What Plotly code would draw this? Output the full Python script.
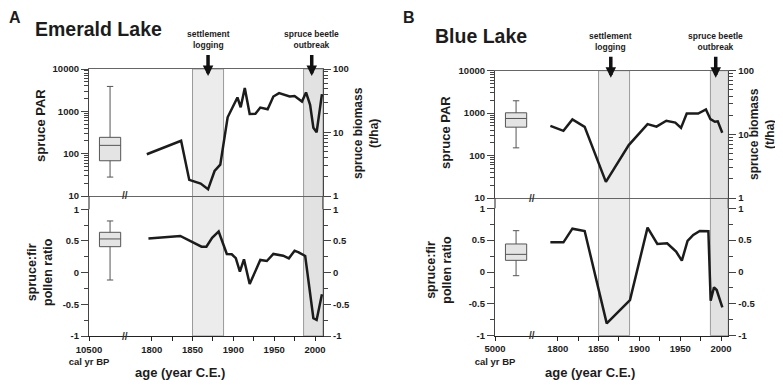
import plotly.graph_objects as go

# ---------------- data ----------------
# Emerald Lake
emerald_par_years = [1794, 1836, 1846, 1860, 1869, 1877, 1884, 1893, 1905, 1909, 1914, 1920, 1927,
                     1933, 1942, 1949, 1956, 1969, 1975, 1984, 1989, 1994, 1998, 2002, 2008.5]
emerald_par = [97, 202, 24, 19.6, 14.4, 39, 55, 724, 2120, 1250, 3540, 870, 880,
               1230, 1120, 2240, 2690, 2240, 2300, 1710, 2790, 1420, 410, 320, 2550]
emerald_ratio_years = [1796, 1835, 1861, 1867, 1874, 1882, 1892, 1898, 1903, 1908, 1913, 1920,
                       1933, 1941, 1949, 1961, 1968, 1975, 1980, 1988, 1998, 2002, 2008.5]
emerald_ratio = [0.54, 0.58, 0.41, 0.41, 0.55, 0.65, 0.295, 0.29, 0.23, 0.016, 0.21, -0.18,
                 0.2, 0.184, 0.295, 0.268, 0.226, 0.347, 0.32, 0.263, -0.72, -0.747, -0.342]
# Holocene distribution boxes (lower whisker, q1, median, q3, upper whisker)
emerald_par_box = [28, 68, 157, 243, 3875]
emerald_ratio_box = [-0.116, 0.41, 0.532, 0.637, 0.816]

# Blue Lake
blue_par_years = [1791, 1807, 1818, 1833, 1859, 1887, 1910, 1921, 1933, 1944, 1951, 1958,
                  1972, 1981.5, 1987, 1992.5, 1996, 2001.5]
blue_par = [502, 383, 708, 475, 24, 177, 550, 480, 660, 600, 450, 980,
            980, 1220, 720, 625, 640, 345]
blue_ratio_years = [1791, 1807, 1818, 1833, 1860, 1888.5, 1910, 1922, 1934, 1945, 1952, 1959,
                    1966, 1974, 1984.5, 1987.3, 1991.4, 1994.7, 2001.6]
blue_ratio = [0.466, 0.466, 0.68, 0.644, -0.806, -0.44, 0.696, 0.44, 0.45, 0.319, 0.178, 0.487,
              0.581, 0.644, 0.639, -0.45, -0.24, -0.283, -0.555]
blue_par_box = [152, 467, 748, 1019, 1955]
blue_ratio_box = [-0.058, 0.183, 0.277, 0.44, 0.649]

# disturbance periods (years C.E.) and arrow years
period_settlement = [1850, 1888]
period_beetle = [1986, 2010]
event_labels = ["settlement<br>logging", "spruce beetle<br>outbreak"]
emerald_event_years = [1869, 1996]
blue_event_years = [1865, 1993.5]

# tick labels
year_ticks = [1800, 1850, 1900, 1950, 2000]
year_minor = [1825, 1875, 1925, 1975]
par_ticks = [10, 100, 1000, 10000]
biomass_ticks = [1, 10, 100]
ratio_ticks = [-1, -0.5, 0, 0.5, 1]
ratio_ticktext = ["-1", "-0.5", "0", "0.5", "1"]
ratio_minor = [-0.75, -0.25, 0.25, 0.75]
emerald_box_label = "10500<br>cal yr BP"
blue_box_label = "5000<br>cal yr BP"

# ---------------- style / layout constants ----------------
OFF = 8                      # page body margin of the html page
W, H = 783 - OFF, 385 - OFF  # figure size so it fits the window exactly
FONT = "Liberation Sans, Arial, sans-serif"
TXT = "#1c1c1c"
LINE = "#1c1c1c"
BOX_X = 1749
BOX_W = 26


def px_x(p):
    return (p - OFF) / W


def px_y(p):
    return 1 - (p - OFF) / H


def log_minor(decades):
    out = []
    for d in decades:
        out += [d * k for k in range(2, 10)]
    return out


panels = [
    dict(name="A", title="Emerald Lake", xl=89, xr=323, top=(69, 196), bot=(209.3, 336),
         xrange=[1723.2, 2009.8], brk=1767.3,
         par_x=emerald_par_years, par=emerald_par, r_x=emerald_ratio_years, r=emerald_ratio,
         pbox=emerald_par_box, rbox=emerald_ratio_box, ev=emerald_event_years,
         box_label=emerald_box_label, beetle_start=1986,
         letter_x=15, title_pos=(33, 29.5),
         lab_par=(40, 126), lab_ratio=(40, 272), lab_bio=(366, 133), lab_age=(180, 372.5)),
    dict(name="B", title="Blue Lake", xl=495, xr=728.3, top=(70.7, 198), bot=(208.3, 335.7),
         xrange=[1723.2, 2008.9], brk=1768.2,
         par_x=blue_par_years, par=blue_par, r_x=blue_ratio_years, r=blue_ratio,
         pbox=blue_par_box, rbox=blue_ratio_box, ev=blue_event_years,
         box_label=blue_box_label, beetle_start=1987,
         letter_x=409, title_pos=(433, 36),
         lab_par=(445, 133), lab_ratio=(438.7, 270), lab_bio=(762, 134), lab_age=(589.7, 372.5)),
]

fig = go.Figure()
layout = dict(width=W, height=H, margin=dict(l=0, r=0, t=0, b=0, pad=0, autoexpand=False),
              autosize=False,
              paper_bgcolor="white", plot_bgcolor="rgba(0,0,0,0)", showlegend=False,
              font=dict(family=FONT, color=TXT))
shapes, annotations = [], []

tickfont = dict(family=FONT, size=9.5, color=TXT, weight="bold")


def lk(a):
    return ("xaxis" if a[0] == "x" else "yaxis") + a[1:]


for i, p in enumerate(panels):
    xb = "x" if i == 0 else "x3"      # bottom x axis
    xt = "x2" if i == 0 else "x4"     # top x axis
    yk = [f"y{n}" if n > 1 else "y" for n in range(4 * i + 1, 4 * i + 5)]
    ypar, ybio, yrat, yrat2 = yk
    dom_x = [px_x(p["xl"]), px_x(p["xr"])]
    dom_top = [px_y(p["top"][1]), px_y(p["top"][0])]
    dom_bot = [px_y(p["bot"][1]), px_y(p["bot"][0])]

    # bottom x axis
    layout[lk(xb)] = dict(domain=dom_x, anchor=yrat, range=p["xrange"], showgrid=False, zeroline=False,
                          showline=True, linecolor="#222", linewidth=1.2, ticks="outside", ticklen=4,
                          tickcolor="#222", tickwidth=1.2, automargin=False,
                          tickmode="array", tickvals=[p["xrange"][0]] + year_ticks,
                          ticktext=[p["box_label"]] + [str(v) for v in year_ticks],
                          tickfont=tickfont,
                          minor=dict(tickmode="array", tickvals=year_minor, ticks="outside", ticklen=4,
                                     tickcolor="#222", tickwidth=1.2, showgrid=False))
    # top x axis (frame lines only)
    layout[lk(xt)] = dict(domain=dom_x, anchor=ypar, range=p["xrange"], matches=xb, showgrid=False,
                          zeroline=False, showline=True, mirror=True, linecolor="#666", linewidth=1.2,
                          ticks="", showticklabels=False, automargin=False)
    # PAR axis (log)
    layout[lk(ypar)] = dict(domain=dom_top, anchor=xt, type="log", range=[1, 4], showgrid=False,
                            zeroline=False, showline=True, linecolor="#444", linewidth=1.2,
                            ticks="outside", ticklen=7, tickcolor="#444", tickwidth=1.2, automargin=False,
                            tickmode="array", tickvals=par_ticks, ticktext=[str(v) for v in par_ticks],
                            tickfont=tickfont,
                            minor=dict(tickmode="array", tickvals=log_minor([10, 100, 1000]),
                                       ticks="outside", ticklen=4, tickcolor="#444", tickwidth=1,
                                       showgrid=False))
    # biomass axis (log, right)
    layout[lk(ybio)] = dict(overlaying=ypar, side="right", anchor=xt, type="log", range=[0, 2],
                            showgrid=False, zeroline=False, showline=True, linecolor="#444",
                            linewidth=1.2, ticks="outside", ticklen=7, tickcolor="#444", tickwidth=1.2,
                            automargin=False,
                            tickmode="array", tickvals=biomass_ticks,
                            ticktext=[str(v) for v in biomass_ticks], tickfont=tickfont,
                            minor=dict(tickmode="array", tickvals=log_minor([1, 10]), ticks="outside",
                                       ticklen=4, tickcolor="#444", tickwidth=1, showgrid=False))
    # ratio axes
    for key, side, ov in [(yrat, "left", None), (yrat2, "right", yrat)]:
        d = dict(anchor=xb, range=[-1, 1], showgrid=False, zeroline=False, showline=True,
                 linecolor="#444", linewidth=1.2, ticks="outside", ticklen=7, tickcolor="#444",
                 tickwidth=1.2, tickmode="array", tickvals=ratio_ticks, ticktext=ratio_ticktext,
                 tickfont=tickfont, side=side, automargin=False,
                 minor=dict(tickmode="array", tickvals=ratio_minor, ticks="outside", ticklen=4,
                            tickcolor="#444", tickwidth=1, showgrid=False))
        if ov:
            d["overlaying"] = ov
        else:
            d["domain"] = dom_bot
        layout[lk(key)] = d

    # traces
    fig.add_trace(go.Box(x=[BOX_X], q1=[p["pbox"][1]], median=[p["pbox"][2]], q3=[p["pbox"][3]],
                         lowerfence=[p["pbox"][0]], upperfence=[p["pbox"][4]], width=BOX_W,
                         fillcolor="#e4e4e4", line=dict(color="#555", width=1), whiskerwidth=0.3,
                         boxpoints=False, xaxis=xt, yaxis=ypar, hoverinfo="skip"))
    fig.add_trace(go.Scatter(x=p["par_x"], y=p["par"], mode="lines", line=dict(color=LINE, width=2.5),
                             xaxis=xt, yaxis=ypar))
    fig.add_trace(go.Scatter(x=[], y=[], mode="lines", xaxis=xt, yaxis=ybio))
    fig.add_trace(go.Box(x=[BOX_X], q1=[p["rbox"][1]], median=[p["rbox"][2]], q3=[p["rbox"][3]],
                         lowerfence=[p["rbox"][0]], upperfence=[p["rbox"][4]], width=BOX_W,
                         fillcolor="#e4e4e4", line=dict(color="#555", width=1), whiskerwidth=0.3,
                         boxpoints=False, xaxis=xb, yaxis=yrat, hoverinfo="skip"))
    fig.add_trace(go.Scatter(x=p["r_x"], y=p["r"], mode="lines", line=dict(color=LINE, width=2.5),
                             xaxis=xb, yaxis=yrat))
    fig.add_trace(go.Scatter(x=[], y=[], mode="lines", xaxis=xb, yaxis=yrat2))

    # shaded disturbance periods
    y0, y1 = px_y(p["bot"][1]), px_y(p["top"][0])
    for (s, e), fill in [(period_settlement, "#ececec"),
                         ((p["beetle_start"], period_beetle[1]), "#e2e2e2")]:
        shapes.append(dict(type="rect", xref=xb, yref="paper", x0=s, x1=min(e, p["xrange"][1]),
                           y0=y0, y1=y1, fillcolor=fill, line=dict(color="#9a9a9a", width=1),
                           layer="below"))
    # connectors of the left/right axis lines across the gap between panels
    for xx in dom_x:
        shapes.append(dict(type="line", xref="paper", yref="paper", x0=xx, x1=xx,
                           y0=dom_bot[1], y1=dom_top[0], line=dict(color="#444", width=1.2)))
    # axis break marks
    for yy in [dom_top[0], dom_bot[0]]:
        annotations.append(dict(text="//", xref=xb, yref="paper", x=p["brk"], y=yy, showarrow=False,
                                font=dict(size=10, color="#333", family=FONT, weight="bold"),
                                xanchor="center", yanchor="middle"))
    # event arrows + labels
    for lab, ex in zip(event_labels, p["ev"]):
        annotations.append(dict(text=lab, xref=xb, yref="paper", x=ex, y=px_y(p["top"][0] + 7),
                                showarrow=True, ax=0, ay=-36, arrowhead=2, arrowsize=0.6,
                                arrowwidth=3.5, arrowcolor="#111", startstandoff=3,
                                font=dict(size=8.5, color=TXT, family=FONT, weight="bold")))
    # panel letter (kept inside the top edge of the figure) + title
    annotations.append(dict(text=p["name"], xref="paper", yref="paper", x=px_x(p["letter_x"]),
                            y=1, showarrow=False, xanchor="center", yanchor="top", borderpad=0,
                            font=dict(size=16, family=FONT, weight="bold", color=TXT)))
    annotations.append(dict(text=p["title"], xref="paper", yref="paper", x=px_x(p["title_pos"][0]),
                            y=px_y(p["title_pos"][1]), showarrow=False, xanchor="left",
                            yanchor="middle", font=dict(size=19.5, family=FONT, weight="bold", color=TXT)))
    # axis titles
    for txt, pos, ang, size in [("spruce PAR", p["lab_par"], -90, 13),
                                ("spruce:fir<br>pollen ratio", p["lab_ratio"], -90, 12.5),
                                ("spruce biomass<br>(t/ha)", p["lab_bio"], -90, 12),
                                ("age (year C.E.)", p["lab_age"], 0, 13)]:
        annotations.append(dict(text=txt, xref="paper", yref="paper", x=px_x(pos[0]), y=px_y(pos[1]),
                                showarrow=False, textangle=ang, xanchor="center", yanchor="middle",
                                font=dict(size=size, family=FONT, weight="bold", color=TXT)))

layout["shapes"] = shapes
layout["annotations"] = annotations
fig.update_layout(**layout)
fig.write_html("out.html")
